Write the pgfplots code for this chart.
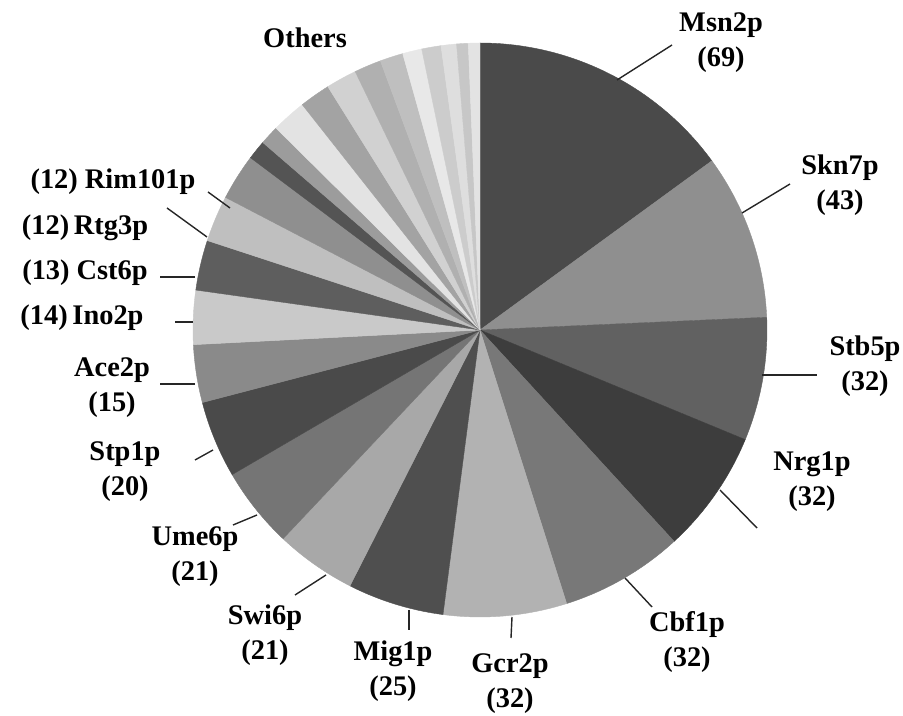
\documentclass[border=0pt]{standalone}
\usepackage{fontspec}
\setmainfont{Liberation Serif}
\usepackage{pgfplots}
\usepackage{pgfplotstable}
\pgfplotsset{compat=1.18}

% slice values (clockwise from 12 o'clock) and grey level (percent black)
\pgfplotstableread{
name     value shade
Msn2p    69    71
Skn7p    43    44
Stb5p    32    62
Nrg1p    32    76
Cbf1p    32    53
Gcr2p    32    30
Mig1p    25    69
Swi6p    21    34
Ume6p    21    54
Stp1p    20    71
Ace2p    15    46
Ino2p    14    21
Cst6p    13    63
Rtg3p    12    25
Rim101p  12    44
O1       5     67
O2       5     39
O3       9     11
O4       8     36
O5       8     18
O6       7     31
O7       6     25
O8       5     9
O9       5     20
O10      4     13
O11      3     22
O12      3     11
}\piedata

\def\total{0}
\pgfplotstableforeachcolumnelement{value}\of\piedata\as\cell{%
  \pgfmathparse{\total+\cell}\xdef\total{\pgfmathresult}}

\newcommand\lab{\fontsize{28.5}{35}\selectfont\bfseries}

\begin{document}
\begin{tikzpicture}
\begin{axis}[
  scale only axis,
  width=903bp, height=716bp,
  xmin=-480, xmax=423, ymin=-386, ymax=330,
  hide axis, clip=false,
]
\pgfplotstablegetrowsof{\piedata}
\pgfmathtruncatemacro\lastrow{\pgfplotsretval-1}
\xdef\cum{0}
\pgfplotsforeachungrouped \i in {0,...,\lastrow}{%
  \pgfplotstablegetelem{\i}{value}\of\piedata \let\v\pgfplotsretval
  \pgfplotstablegetelem{\i}{shade}\of\piedata \let\s\pgfplotsretval
  \pgfmathsetmacro\angA{90-\cum/\total*360}%
  \pgfmathparse{\cum+\v}\xdef\cum{\pgfmathresult}%
  \pgfmathsetmacro\angB{90-\cum/\total*360}%
  \pgfmathtruncatemacro\ns{max(4,ceil(abs(\angA-\angB)))+1}%
  \edef\cmd{\noexpand\addplot[fill=black!\s, draw=black!\s, line width=0.4bp,
     data cs=polar, domain=\angB:\angA, samples=\ns]
     ({x},{287}) -- (axis cs:0,0) -- cycle;}%
  \cmd
}

% leader lines
\begin{scope}[line width=1.4bp, black!85]
\draw (axis cs:137,250) -- (axis cs:192,285);
\draw (axis cs:262,117) -- (axis cs:310,146);
\draw (axis cs:282,-45) -- (axis cs:337,-45);
\draw (axis cs:240,-160) -- (axis cs:277,-198);
\draw (axis cs:145,-248) -- (axis cs:172,-277);
\draw (axis cs:32,-287) -- (axis cs:31,-308);
\draw (axis cs:-71,-280) -- (axis cs:-71,-300);
\draw (axis cs:-154,-245) -- (axis cs:-185,-265);
\draw (axis cs:-223,-185) -- (axis cs:-247,-195);
\draw (axis cs:-267,-120) -- (axis cs:-285,-130);
\draw (axis cs:-285,-54) -- (axis cs:-320,-54);
\draw (axis cs:-287,8) -- (axis cs:-305,8);
\draw (axis cs:-285,53) -- (axis cs:-320,53);
\draw (axis cs:-273,93) -- (axis cs:-313,122);
\draw (axis cs:-250,122) -- (axis cs:-272,138);
\end{scope}

% labels
\begin{scope}[every node/.style={font=\lab, align=center, inner sep=0pt}]
\node at (axis cs:-175,292) {Others};
\node at (axis cs:241,287) {Msn2p\\(69)};
\node at (axis cs:360,145) {Skn7p\\(43)};
\node at (axis cs:385,-36) {Stb5p\\(32)};
\node at (axis cs:332,-152) {Nrg1p\\(32)};
\node at (axis cs:207,-312) {Cbf1p\\(32)};
\node at (axis cs:30,-354) {Gcr2p\\(32)};
\node at (axis cs:-87,-341) {Mig1p\\(25)};
\node at (axis cs:-215,-305) {Swi6p\\(21)};
\node at (axis cs:-285,-227) {Ume6p\\(21)};
\node at (axis cs:-355,-142) {Stp1p\\(20)};
\node at (axis cs:-368,-58) {Ace2p\\(15)};
\node at (axis cs:-398,12) {(14)\,Ino2p};
\node at (axis cs:-395,57) {(13) Cst6p};
\node at (axis cs:-395,102) {(12)\,Rtg3p};
\node at (axis cs:-367,148) {(12) Rim101p};
\end{scope}
\end{axis}
\pgfresetboundingbox
\path (current axis.south west) rectangle (current axis.north east);
\end{tikzpicture}
\end{document}
